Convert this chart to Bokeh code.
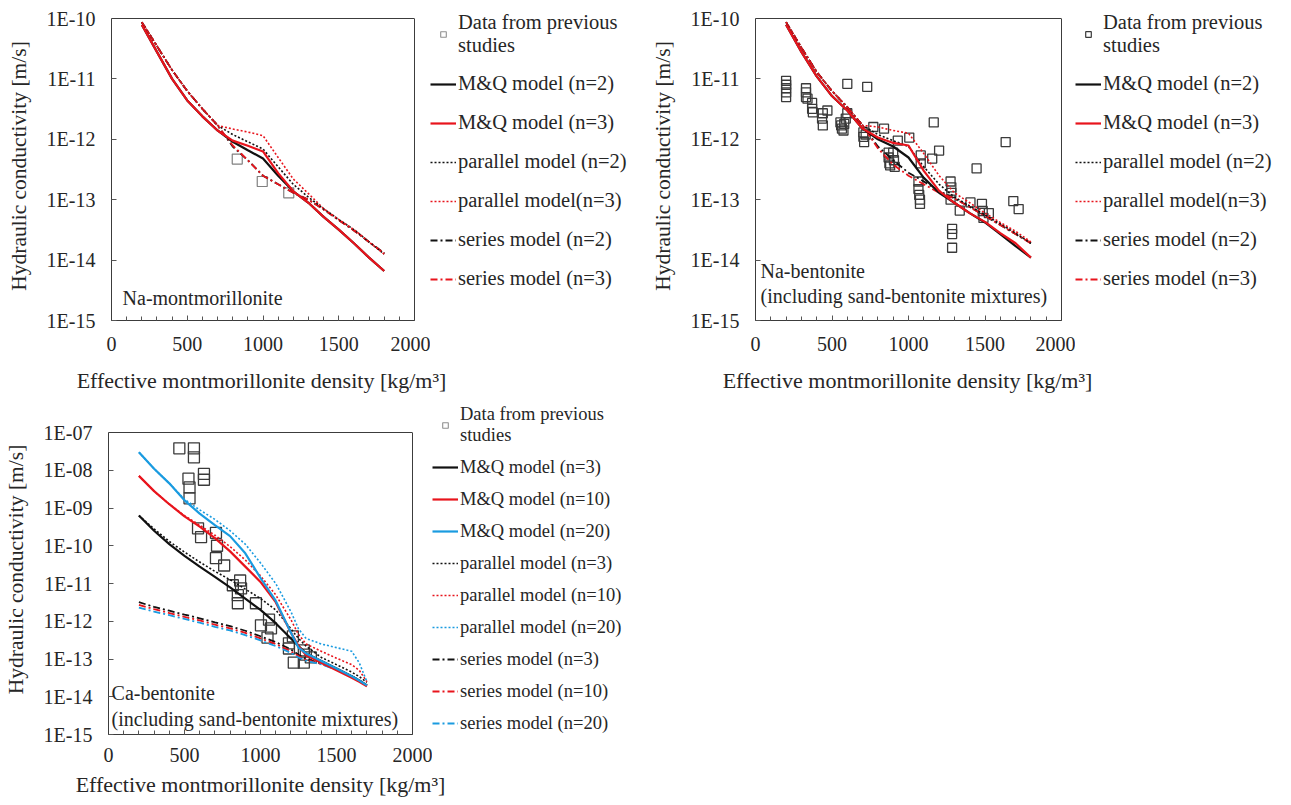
from bokeh.plotting import figure
from bokeh.models import (Legend, LegendItem, Label, FixedTicker, CustomJSTickFormatter, Range1d,
                          LogAxis, Span)
from bokeh.layouts import column, row
from bokeh.embed import file_html
from bokeh.resources import INLINE

# ---------------- data ----------------
x_na = [200, 300, 400, 500, 600, 700, 800, 900, 1000, 1100, 1200, 1300, 1400, 1500, 1600, 1700, 1800]

# Panel 1: Na-montmorillonite
mont_mq2 = [7.9e-11, 2.8e-11, 1.0e-11, 4.4e-12, 2.4e-12, 1.4e-12, 9.1e-13, 6.6e-13, 4.8e-13, 2.5e-13, 1.38e-13, 8.9e-14, 5.2e-14, 3.2e-14, 1.9e-14, 1.1e-14, 6.6e-15]
mont_mq3 = [7.9e-11, 2.8e-11, 1.0e-11, 4.4e-12, 2.4e-12, 1.4e-12, 9.5e-13, 7.8e-13, 6.3e-13, 2.75e-13, 1.38e-13, 8.9e-14, 5.2e-14, 3.2e-14, 1.9e-14, 1.1e-14, 6.6e-15]
mont_par2 = [8.7e-11, 3.5e-11, 1.4e-11, 6.3e-12, 3.2e-12, 1.7e-12, 1.2e-12, 9.1e-13, 6.9e-13, 3.5e-13, 1.8e-13, 1.1e-13, 7.1e-14, 4.7e-14, 3.2e-14, 2.0e-14, 1.26e-14]
mont_par3 = [8.7e-11, 3.5e-11, 1.4e-11, 6.3e-12, 3.2e-12, 1.7e-12, 1.48e-12, 1.32e-12, 1.15e-12, 5.0e-13, 2.2e-13, 1.26e-13, 7.1e-14, 4.7e-14, 3.2e-14, 2.0e-14, 1.26e-14]
mont_ser2 = [8.7e-11, 3.5e-11, 1.4e-11, 6.3e-12, 3.2e-12, 1.7e-12, 7.6e-13, 4.5e-13, 2.5e-13, 1.8e-13, 1.3e-13, 1.0e-13, 6.9e-14, 4.6e-14, 3.1e-14, 2.0e-14, 1.3e-14]
mont_ser3 = [8.7e-11, 3.5e-11, 1.4e-11, 6.3e-12, 3.2e-12, 1.7e-12, 7.9e-13, 4.5e-13, 2.5e-13, 1.8e-13, 1.3e-13, 1.0e-13, 6.9e-14, 4.6e-14, 3.1e-14, 2.0e-14, 1.3e-14]
mont_data_x = [830, 995, 1170]
mont_data_y = [4.7e-13, 2.0e-13, 1.3e-13]

# Panel 2: Na-bentonite
bent_mq2 = [7.9e-11, 2.8e-11, 1.1e-11, 5.2e-12, 3.0e-12, 1.5e-12, 1.0e-12, 7.6e-13, 5.0e-13, 2.3e-13, 1.3e-13, 8.9e-14, 6.0e-14, 4.2e-14, 2.7e-14, 1.7e-14, 1.1e-14]
bent_mq3 = [7.9e-11, 2.8e-11, 1.1e-11, 5.2e-12, 3.0e-12, 1.5e-12, 1.07e-12, 8.7e-13, 7.9e-13, 3.0e-13, 1.4e-13, 8.9e-14, 6.0e-14, 4.3e-14, 2.8e-14, 1.9e-14, 1.1e-14]
bent_par2 = [8.7e-11, 3.3e-11, 1.3e-11, 6.3e-12, 3.4e-12, 1.7e-12, 1.2e-12, 9.5e-13, 7.6e-13, 3.5e-13, 1.8e-13, 1.1e-13, 7.9e-14, 5.6e-14, 4.0e-14, 2.8e-14, 1.9e-14]
bent_par3 = [8.7e-11, 3.3e-11, 1.3e-11, 6.3e-12, 3.4e-12, 1.7e-12, 1.6e-12, 1.4e-12, 1.26e-12, 5.8e-13, 2.5e-13, 1.3e-13, 8.9e-14, 6.0e-14, 4.2e-14, 3.0e-14, 2.0e-14]
bent_ser2 = [8.7e-11, 3.3e-11, 1.3e-11, 6.3e-12, 3.4e-12, 1.7e-12, 7.6e-13, 4.5e-13, 2.8e-13, 2.0e-13, 1.4e-13, 1.05e-13, 7.6e-14, 5.4e-14, 3.8e-14, 2.7e-14, 1.9e-14]
bent_ser3 = [8.7e-11, 3.3e-11, 1.3e-11, 6.3e-12, 3.4e-12, 1.7e-12, 7.1e-13, 3.8e-13, 2.5e-13, 1.8e-13, 1.3e-13, 1.05e-13, 7.6e-14, 5.4e-14, 3.8e-14, 2.7e-14, 1.9e-14]
bent_data_x = [200, 200, 200, 200, 200, 330, 330, 330, 340, 370, 370, 375, 440, 435, 440, 470,
               555, 560, 565, 575, 580, 600, 600, 590, 730, 705, 705, 710, 720, 770, 840, 930, 1005,
               870, 870, 875, 880, 900, 905, 910, 1080, 1080, 1065, 1065, 1070, 1075, 1075,
               1165, 1155, 1200, 1275, 1280, 1280, 1275, 1285, 1285, 1285,
               1335, 1405, 1480, 1485, 1490, 1525, 1445, 1635, 1685, 1720]
bent_data_y = [9.3e-12, 8e-12, 7e-12, 6e-12, 5e-12, 7e-12, 6e-12, 5e-12, 4.7e-12, 4e-12, 3.2e-12, 2.8e-12, 2.7e-12, 2.2e-12, 1.7e-12, 3.0e-12,
               1.9e-12, 1.7e-12, 1.5e-12, 1.4e-12, 1.8e-12, 8.3e-12, 2.7e-12, 2.2e-12, 7.4e-12, 1.3e-12, 1.1e-12, 9e-13, 1.2e-12, 1.6e-12, 1.5e-12, 9.5e-13, 1.07e-12,
               6e-13, 5e-13, 4e-13, 3.7e-13, 6e-13, 4.5e-13, 3.5e-13, 5.4e-13, 4e-13, 2e-13, 1.5e-13, 1.2e-13, 1e-13, 8.5e-14,
               1.9e-12, 4.8e-13, 6.5e-13, 2e-13, 1.6e-13, 1.3e-13, 1e-13, 3.3e-14, 2.7e-14, 1.6e-14,
               6.6e-14, 9e-14, 8.5e-14, 6.5e-14, 5e-14, 6e-14, 3.3e-13, 9e-13, 9.5e-14, 7e-14]

# Panel 3: Ca-bentonite
x_ca = [200, 300, 400, 500, 600, 700, 800, 900, 1000, 1100, 1200, 1250, 1300, 1400, 1500, 1600, 1650, 1700]
ca_mq3 = [6.3e-10, 2.5e-10, 1.1e-10, 5.4e-11, 2.8e-11, 1.5e-11, 7.9e-12, 4.0e-12, 2.0e-12, 8.9e-13, 3.5e-13, 2.2e-13, 1.4e-13, 8.9e-14, 5.6e-14, 3.5e-14, 2.7e-14, 2.0e-14]
ca_mq10 = [7.1e-9, 2.8e-9, 1.26e-9, 6.0e-10, 3.2e-10, 1.6e-10, 7.1e-11, 2.8e-11, 1.1e-11, 3.2e-12, 5.0e-13, 2.2e-13, 1.26e-13, 7.9e-14, 5.0e-14, 3.2e-14, 2.5e-14, 1.9e-14]
ca_mq20 = [3.0e-8, 1.1e-8, 4.5e-9, 1.6e-9, 7.1e-10, 3.5e-10, 1.8e-10, 6.3e-11, 1.4e-11, 3.5e-12, 5.0e-13, 2.0e-13, 1.4e-13, 8.9e-14, 5.6e-14, 3.5e-14, 2.7e-14, 2.0e-14]
ca_par3 = [6.3e-10, 2.8e-10, 1.3e-10, 6.8e-11, 3.7e-11, 2.1e-11, 1.26e-11, 7.1e-12, 4.0e-12, 2.0e-12, 6.3e-13, 3.5e-13, 2.2e-13, 1.1e-13, 7.1e-14, 4.5e-14, 3.4e-14, 2.4e-14]
ca_par10 = [7.1e-9, 2.8e-9, 1.26e-9, 6.3e-10, 3.5e-10, 1.9e-10, 9.5e-11, 4.2e-11, 1.6e-11, 5.0e-12, 1.1e-12, 4.5e-13, 2.5e-13, 1.6e-13, 1.05e-13, 7.1e-14, 5.0e-14, 2.5e-14]
ca_par20 = [3.0e-8, 1.1e-8, 4.5e-9, 1.7e-9, 8.9e-10, 5.0e-10, 2.5e-10, 1.1e-10, 3.5e-11, 1.0e-11, 1.8e-12, 6.3e-13, 3.5e-13, 2.5e-13, 2.0e-13, 1.6e-13, 7.9e-14, 2.5e-14]
ca_ser3 = [3.2e-12, 2.4e-12, 1.9e-12, 1.5e-12, 1.2e-12, 9.3e-13, 7.4e-13, 5.6e-13, 4.0e-13, 2.8e-13, 1.8e-13, 1.3e-13, 1.0e-13, 7.6e-14, 5.4e-14, 3.5e-14, 2.7e-14, 2.0e-14]
ca_ser10 = [2.7e-12, 2.1e-12, 1.65e-12, 1.3e-12, 1.05e-12, 8.1e-13, 6.5e-13, 4.9e-13, 3.5e-13, 2.5e-13, 1.6e-13, 1.2e-13, 9.5e-14, 7.4e-14, 5.3e-14, 3.5e-14, 2.7e-14, 2.0e-14]
ca_ser20 = [2.3e-12, 1.8e-12, 1.45e-12, 1.15e-12, 9.2e-13, 7.1e-13, 5.7e-13, 4.3e-13, 3.1e-13, 2.2e-13, 1.45e-13, 1.1e-13, 9.0e-14, 7.2e-14, 5.2e-14, 3.5e-14, 2.7e-14, 2.0e-14]
ca_data_x = [466, 562, 562, 526, 533, 533, 628, 628, 589, 609, 707, 714, 707, 761, 818, 866, 872, 851, 851, 970,
             1056, 1003, 1069, 1046, 1213, 1187, 1187, 1219, 1285, 1285, 1298, 1331]
ca_data_y = [3.8e-8, 3.8e-8, 2.2e-8, 6e-9, 3.5e-9, 1.8e-9, 8e-9, 5.6e-9, 2.9e-10, 1.7e-10, 2.2e-10, 1e-10, 4.7e-11, 3e-11, 9e-12, 1.2e-11, 7.4e-12, 4.9e-12, 3e-12, 3e-12,
             1.1e-12, 7.8e-13, 6.5e-13, 3.7e-13, 4e-13, 2.6e-13, 1.9e-13, 8e-14, 8e-14, 1.7e-13, 1.3e-13, 1.1e-13]

x_ticks = [0, 500, 1000, 1500, 2000]
x_minor = list(range(0, 2001, 100))

labels_na = ["Data from previous\nstudies", "M&Q model (n=2)", "M&Q model (n=3)",
             "parallel model (n=2)", "parallel model(n=3)", "series model (n=2)", "series model (n=3)"]
labels_ca = ["Data from previous\nstudies", "M&Q model (n=3)", "M&Q model (n=10)", "M&Q model (n=20)",
             "parallel model (n=3)", "parallel model (n=10)", "parallel model (n=20)",
             "series model (n=3)", "series model (n=10)", "series model (n=20)"]

FONT = "Liberation Serif"
TXT = "#262626"
EDGE = "#3c3c3c"
BLACK = "#111111"
RED = "#e8141c"
BLUE = "#1a9be0"
SQ = "#3a3a3a"
DOT = "2 2"
DASHDOT = "7 3 2 3"
NAN = float("nan")

XT = "Effective montmorillonite density [kg/m\u00b3]"
YT = "Hydraulic conductivity [m/s]"

# style of each legend entry: (kind, color, width, dash)
STY_NA = [("sq", "#909090", 1.1, "solid"), ("ln", BLACK, 2.2, "solid"), ("ln", RED, 2.2, "solid"),
          ("ln", BLACK, 1.6, DOT), ("ln", RED, 1.6, DOT), ("ln", BLACK, 1.8, DASHDOT), ("ln", RED, 1.8, DASHDOT)]
STY_NB = [("sq", SQ, 1.2, "solid")] + STY_NA[1:]
STY_CA = [("sq", "#909090", 1.1, "solid"), ("ln", BLACK, 2.2, "solid"), ("ln", RED, 2.2, "solid"), ("ln", BLUE, 2.2, "solid"),
          ("ln", BLACK, 1.6, DOT), ("ln", RED, 1.6, DOT), ("ln", BLUE, 1.6, DOT),
          ("ln", BLACK, 1.8, DASHDOT), ("ln", RED, 1.8, DASHDOT), ("ln", BLUE, 1.8, DASHDOT)]


def make_fig(width, height, bl, bt, bb, br, ymin_exp, ymax_exp, ytop_exp, tick_standoff):
    """Plot whose frame reaches a little above the top decade (room for the legend);
    the visible box is drawn with axis lines limited to the decades plus a span."""
    ylo, yhi = 10.0 ** ymin_exp, 10.0 ** ymax_exp
    p = figure(width=width, height=height, x_range=Range1d(0, 2000),
               y_range=Range1d(ylo, 10.0 ** ytop_exp), y_axis_type="log",
               output_backend="svg", toolbar_location=None, title=None,
               min_border_left=bl, min_border_top=bt, min_border_bottom=bb, min_border_right=br)
    p.xgrid.visible = False
    p.ygrid.visible = False
    p.outline_line_color = None
    p.background_fill_color = "white"
    p.border_fill_color = "white"

    xa = p.xaxis[0]
    xa.ticker = FixedTicker(ticks=x_ticks, minor_ticks=x_minor)
    xa.axis_line_color = EDGE
    xa.axis_line_width = 1
    xa.major_tick_in = 5
    xa.major_tick_out = 0
    xa.minor_tick_in = 4
    xa.minor_tick_out = 0
    xa.major_tick_line_color = "#555555"
    xa.minor_tick_line_color = "#555555"
    xa.major_label_standoff = tick_standoff
    xa.major_label_text_font = FONT
    xa.major_label_text_font_size = "20px"
    xa.major_label_text_color = TXT

    ya = p.yaxis[0]
    ya.ticker = FixedTicker(ticks=[10.0 ** e for e in range(ymin_exp, ymax_exp + 1)], minor_ticks=[])
    ya.formatter = CustomJSTickFormatter(code="""
        const e = Math.round(Math.log10(tick));
        const a = Math.abs(e);
        return '1E' + (e < 0 ? '-' : '+') + (a < 10 ? '0' : '') + a;
    """)
    ya.bounds = (ylo, yhi)
    ya.axis_line_color = EDGE
    ya.axis_line_width = 1
    ya.major_tick_in = 5
    ya.major_tick_out = 0
    ya.major_tick_line_color = "#555555"
    ya.major_label_standoff = 16
    ya.major_label_text_font = FONT
    ya.major_label_text_font_size = "20px"
    ya.major_label_text_color = TXT
    ya.axis_label = YT
    ya.axis_label_text_font = FONT
    ya.axis_label_text_font_size = "21.5px"
    ya.axis_label_text_font_style = "normal"
    ya.axis_label_text_color = TXT
    ya.axis_label_standoff = 13

    ra = LogAxis(ticker=FixedTicker(ticks=[], minor_ticks=[]), bounds=(ylo, yhi),
                 axis_line_color=EDGE, axis_line_width=1,
                 major_tick_in=0, major_tick_out=0, minor_tick_in=0, minor_tick_out=0,
                 major_label_standoff=0, major_label_text_font_size="0px")
    p.add_layout(ra, "right")
    p.add_layout(Span(location=yhi, dimension="width", line_color=EDGE, line_width=1))
    return p


def bare_fig(width, height, xr, yr, top=0, bottom=0):
    f = figure(width=width, height=height, x_range=xr, y_range=yr,
               x_axis_type=None, y_axis_type=None, output_backend="svg", toolbar_location=None,
               title=None, min_border_left=0, min_border_right=0, min_border_top=top,
               min_border_bottom=bottom)
    f.outline_line_color = None
    f.xgrid.visible = False
    f.ygrid.visible = False
    f.background_fill_color = "white"
    f.border_fill_color = "white"
    return f


def make_legend_fig(width, height, top, bottom, labels, styles, font_size, label_h, spacing):
    lf = bare_fig(width, height, Range1d(0, 1), Range1d(0, 1), top, bottom)
    items = []
    for lab, (kind, col, lw, dash) in zip(labels, styles):
        if kind == "sq":
            r = lf.scatter(x=[NAN], y=[NAN], marker="square", size=6, fill_alpha=0,
                           line_color=col, line_width=lw)
        else:
            r = lf.line(x=[NAN, NAN], y=[NAN, NAN], line_color=col, line_width=lw, line_dash=dash)
        items.append(LegendItem(label=lab, renderers=[r]))
    leg = Legend(items=items, location="top_left", orientation="vertical",
                 label_text_font=FONT, label_text_font_size=font_size, label_text_color=TXT,
                 glyph_width=26, glyph_height=14, label_standoff=2, label_height=label_h,
                 spacing=spacing, padding=0, margin=0,
                 border_line_alpha=0, background_fill_alpha=0)
    lf.add_layout(leg, "center")
    return lf


def make_title_fig(width, height, cx, cy):
    tf = bare_fig(width, height, Range1d(0, width), Range1d(0, height))
    tf.add_layout(Label(x=cx, y=cy, text=XT, text_font=FONT, text_font_size="22px",
                        text_color=TXT, text_align="center", text_baseline="middle"))
    return tf


def add_text(p, x, y, txt):
    p.add_layout(Label(x=x, y=y, text=txt, text_font=FONT, text_font_size="20px",
                       text_color=TXT, text_baseline="middle", text_align="left"))


TOP_EXP_NA = -9.884   # frame top sits 7 px above the 1E-10 line
TOP_EXP_CA = -6.258   # frame top sits 28 px above the 1E-07 line

# ---------------- Panel 1 ----------------
p1 = make_fig(430, 362, 111, 11, 42, 16, -15, -10, TOP_EXP_NA, 16)
p1.scatter(mont_data_x, mont_data_y, marker="square", size=10, fill_alpha=0,
           line_color="#808080", line_width=1.2)
p1.line(x_na, mont_ser2, line_color=BLACK, line_width=1.8, line_dash=DASHDOT)
p1.line(x_na, mont_ser3, line_color=RED, line_width=1.8, line_dash=DASHDOT)
p1.line(x_na, mont_par2, line_color=BLACK, line_width=1.6, line_dash=DOT)
p1.line(x_na, mont_par3, line_color=RED, line_width=1.6, line_dash=DOT)
p1.line(x_na, mont_mq2, line_color=BLACK, line_width=2.2)
p1.line(x_na, mont_mq3, line_color=RED, line_width=2.2)
add_text(p1, 73, 2.4e-15, "Na-montmorillonite")
l1 = make_legend_fig(210, 362, 11, 42, labels_na, STY_NA, "20.5px", 25, 14)
t1 = make_title_fig(640, 33, 261, 15)

# ---------------- Panel 2 ----------------
p2 = make_fig(435, 362, 115, 11, 42, 14, -15, -10, TOP_EXP_NA, 16)
p2.scatter(bent_data_x, bent_data_y, marker="square", size=9, fill_alpha=0,
           line_color=SQ, line_width=1.3)
p2.line(x_na, bent_ser2, line_color=BLACK, line_width=1.8, line_dash=DASHDOT)
p2.line(x_na, bent_ser3, line_color=RED, line_width=1.8, line_dash=DASHDOT)
p2.line(x_na, bent_par2, line_color=BLACK, line_width=1.6, line_dash=DOT)
p2.line(x_na, bent_par3, line_color=RED, line_width=1.6, line_dash=DOT)
p2.line(x_na, bent_mq2, line_color=BLACK, line_width=2.2)
p2.line(x_na, bent_mq3, line_color=RED, line_width=2.2)
add_text(p2, 33, 10 ** -14.18, "Na-bentonite")
add_text(p2, 33, 10 ** -14.59, "(including sand-bentonite mixtures)")
l2 = make_legend_fig(216, 362, 11, 42, labels_na, STY_NB, "20.5px", 25, 14)
t2 = make_title_fig(651, 33, 267, 15)

# ---------------- Panel 3 ----------------
p3 = make_fig(432, 377, 107, 9, 38, 20, -15, -7, TOP_EXP_CA, 13)
p3.scatter(ca_data_x, ca_data_y, marker="square", size=11, fill_alpha=0,
           line_color=SQ, line_width=1.3)
p3.line(x_ca, ca_ser3, line_color=BLACK, line_width=1.8, line_dash=DASHDOT)
p3.line(x_ca, ca_ser10, line_color=RED, line_width=1.8, line_dash=DASHDOT)
p3.line(x_ca, ca_ser20, line_color=BLUE, line_width=1.8, line_dash=DASHDOT)
p3.line(x_ca, ca_par3, line_color=BLACK, line_width=1.6, line_dash=DOT)
p3.line(x_ca, ca_par10, line_color=RED, line_width=1.6, line_dash=DOT)
p3.line(x_ca, ca_par20, line_color=BLUE, line_width=1.6, line_dash=DOT)
p3.line(x_ca, ca_mq3, line_color=BLACK, line_width=2.2)
p3.line(x_ca, ca_mq10, line_color=RED, line_width=2.2)
p3.line(x_ca, ca_mq20, line_color=BLUE, line_width=2.2)
add_text(p3, 20, 10 ** -13.91, "Ca-bentonite")
add_text(p3, 20, 10 ** -14.58, "(including sand-bentonite mixtures)")
l3 = make_legend_fig(222, 377, 9, 38, labels_ca, STY_CA, "18.5px", 22, 10)
t3 = make_title_fig(654, 31, 260, 19)

layout = column(
    row(column(row(p1, l1), t1), column(row(p2, l2), t2)),
    column(row(p3, l3), t3),
)
open("out.html", "w").write(file_html(layout, INLINE))
